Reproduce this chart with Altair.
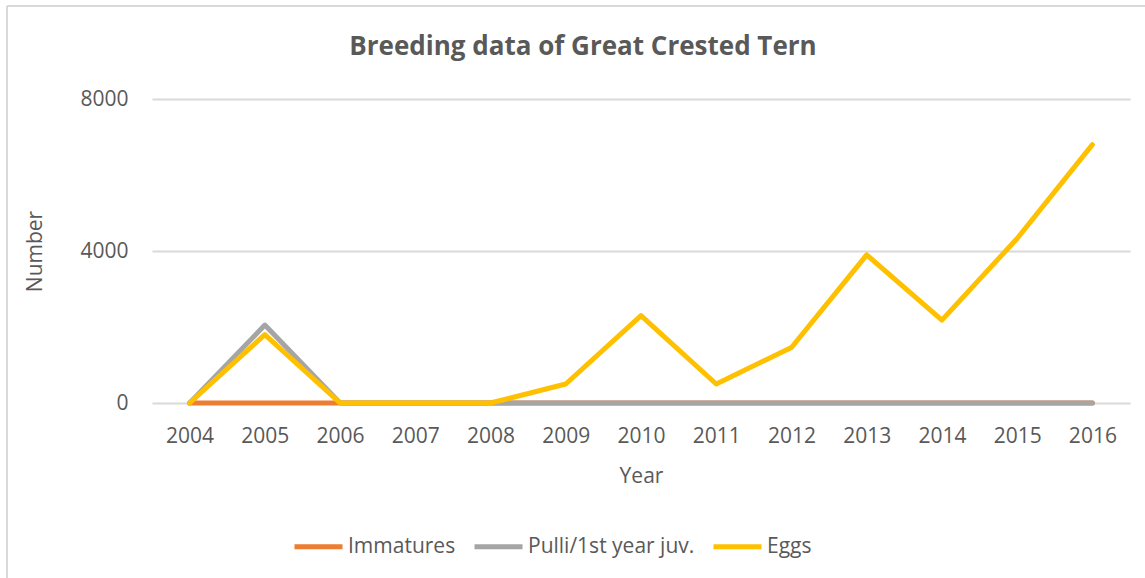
import altair as alt
import pandas as pd

years = [str(y) for y in range(2004, 2017)]
immatures = [0, 0, 0, 0, 0, 0, 0, 0, 0, 0, 0, 0, 0]
pulli = [0, 2050, 0, 0, 0, 0, 0, 0, 0, 0, 0, 0, 0]
eggs = [0, 1800, 0, 0, 0, 500, 2300, 500, 1460, 3900, 2180, 4330, 6800]

series_names = ["Immatures", "Pulli/1st year juv.", "Eggs"]
series_colors = ["#ED7D31", "#A5A5A5", "#FFC000"]
chart_title = "Breeding data of Great Crested Tern"

rows = []
for name, values in zip(series_names, [immatures, pulli, eggs]):
    for year, value in zip(years, values):
        rows.append({"Year": year, "Number": value, "Series": name})
df = pd.DataFrame(rows)

TEXT = "#595959"
FONT = "Open Sans"

lines = alt.Chart(df).mark_line(strokeWidth=5, strokeCap="round", strokeJoin="round").encode(
    x=alt.X("Year:O", sort=years, scale=alt.Scale(padding=0.5),
            axis=alt.Axis(title="Year", labelAngle=0, ticks=False, domain=False,
                          labelPadding=22, titlePadding=19)),
    y=alt.Y("Number:Q", scale=alt.Scale(domain=[0, 8000], nice=False),
            axis=alt.Axis(title="Number", values=[0, 4000, 8000], format="d",
                          ticks=False, domain=False,
                          grid=True, gridColor="#D9D9D9", gridWidth=2,
                          labelPadding=24, titlePadding=34)),
    color=alt.Color("Series:N", sort=series_names,
                    scale=alt.Scale(domain=series_names, range=series_colors),
                    legend=alt.Legend(title=None, orient="none", direction="horizontal",
                                      legendX=140, legendY=421,
                                      symbolType="stroke", symbolSize=2304,
                                      symbolStrokeWidth=5, labelOffset=3,
                                      labelLimit=400, columnPadding=8)),
    order=alt.Order("Series:N"),
)

# chart-area frame (top and left edges)
single = pd.DataFrame({"label": [chart_title]})
frame_top = alt.Chart(single).mark_rule(color="#D9D9D9", strokeWidth=2).encode(
    x=alt.value(-145), x2=alt.value(1010), y=alt.value(-93))
frame_left = alt.Chart(single).mark_rule(color="#D9D9D9", strokeWidth=2).encode(
    x=alt.value(-145), y=alt.value(-93), y2=alt.value(490))

# chart title, centred on the chart area
title = alt.Chart(single).mark_text(
    font=FONT, fontSize=26, fontWeight="bold", color=TEXT,
    align="center", baseline="alphabetic",
).encode(text="label:N", x=alt.value(431), y=alt.value(-44))

chart = alt.layer(frame_top, frame_left, title, lines).properties(
    width=978,
    height=304,
    autosize=alt.AutoSizeParams(type="none"),
    padding={"left": 152, "top": 99, "right": 15, "bottom": 175},
).configure_view(stroke=None).configure_axis(
    labelFont=FONT, titleFont=FONT, labelFontSize=21, titleFontSize=21,
    labelColor=TEXT, titleColor=TEXT, titleFontWeight="normal",
).configure_legend(
    labelFont=FONT, labelFontSize=21, labelColor=TEXT,
)

chart.save("out.html", embed_options={"renderer": "svg", "actions": False})
